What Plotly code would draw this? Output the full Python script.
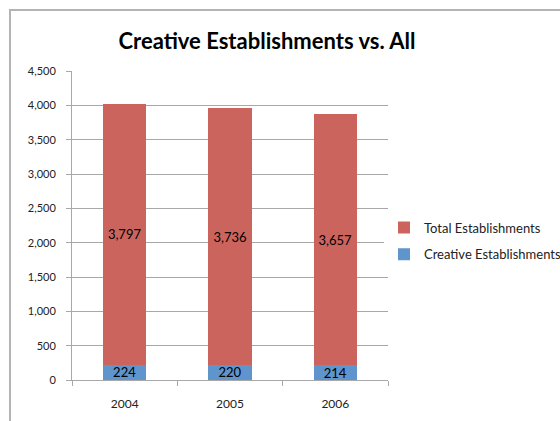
import plotly.graph_objects as go

years = ["2004", "2005", "2006"]
creative = [224, 220, 214]
total = [3797, 3736, 3657]
y_ticks = [0, 500, 1000, 1500, 2000, 2500, 3000, 3500, 4000, 4500]

W, H = 560, 421
L, R, T, B = 72, 172, 71, 41
pw, ph = W - L - R, H - T - B

def px_x(p):
    return (p - L) / pw

def px_y(p):
    return (H - B - p) / ph

FONT = "Lato, Open Sans, sans-serif"

fig = go.Figure()
fig.add_trace(go.Bar(
    x=years, y=creative, name="Creative Establishments", legendgroup="c",
    legendrank=2,
    marker=dict(color="#5F94CC", line=dict(width=0)),
    text=[f"{v:,}" for v in creative], textposition="inside", textangle=0,
    insidetextanchor="middle", constraintext="none",
    textfont=dict(family=FONT, size=13, color="#000000"),
))
fig.add_trace(go.Bar(
    x=years, y=total, name="Total Establishments", legendgroup="t",
    legendrank=1,
    marker=dict(color="#CC645E", line=dict(width=0)),
    text=[f"{v:,}" for v in total], textposition="inside", textangle=0,
    insidetextanchor="middle", constraintext="none",
    textfont=dict(family=FONT, size=13, color="#000000"),
))

fig.update_layout(
    width=W, height=H,
    barmode="stack", bargap=0.59,
    margin=dict(l=L, r=R, t=T, b=B, pad=0, autoexpand=False),
    paper_bgcolor="white", plot_bgcolor="white",
    font=dict(family=FONT, size=11, color="#222222"),
    title=dict(text="<b>Creative Establishments vs. All</b>",
               x=267 / W, xanchor="center", xref="container",
               y=1 - 41 / H, yanchor="middle", yref="container",
               font=dict(family=FONT, size=22, color="#000000")),
    legend=dict(traceorder="grouped", xref="container", yref="container",
                x=384 / W, xanchor="left",
                y=1 - 241 / H, yanchor="middle",
                font=dict(size=13, color="#222222"),
                itemsizing="constant", tracegroupgap=7),
    showlegend=True,
    xaxis=dict(type="category", showline=True, linecolor="#A8A8A8", linewidth=1,
               ticks="outside", tickson="boundaries", ticklen=5, tickcolor="#A8A8A8",
               showgrid=False, ticklabelstandoff=13,
               tickfont=dict(size=12, color="#222222")),
    yaxis=dict(range=[0, 4500], tickvals=y_ticks,
               ticktext=[f"{v:,}" for v in y_ticks],
               showline=True, linecolor="#A8A8A8", linewidth=1,
               ticks="outside", ticklen=5, tickcolor="#A8A8A8",
               showgrid=True, gridcolor="#A8A8A8", gridwidth=1,
               zeroline=False, ticklabelstandoff=8,
               tickfont=dict(size=11, color="#222222")),
    shapes=[dict(type="rect", xref="paper", yref="paper",
                 x0=px_x(10), x1=px_x(600), y0=px_y(460), y1=px_y(10),
                 line=dict(color="#B4B4B4", width=2), fillcolor="rgba(0,0,0,0)",
                 layer="below")],
)

fig.write_html("out.html", config={"displayModeBar": False},
               post_script="document.body.style.margin='0';document.body.style.overflow='hidden';")
